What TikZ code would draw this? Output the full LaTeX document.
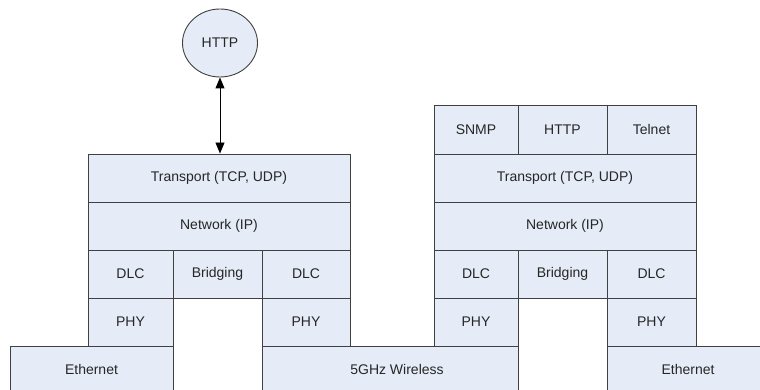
\documentclass[tikz,border=0pt]{standalone}
\usepackage{fontspec}
\setmainfont{Liberation Sans}
\usetikzlibrary{arrows.meta,shapes.geometric}
\definecolor{cellfill}{HTML}{E6ECF7}
\definecolor{cellline}{HTML}{404040}
\tikzset{
  cell/.style={draw=cellline, fill=cellfill, line width=0.9pt, inner sep=0pt,
    font=\fontsize{14}{16}\selectfont, text=black!85},
  lbl/.style={font=\fontsize{14}{16}\selectfont, text=black!85},
}
\newcommand{\cellbox}[6]{% name, x1, y1, x2, y2, text
  \node[cell, minimum width={(#4-#2)*1pt}, minimum height={(#5-#3)*1pt}]
    (#1) at ({(#2+#4)/2}, {(#3+#5)/2}) {#6};}
\begin{document}
\begin{tikzpicture}[x=1pt, y=-1pt]
\useasboundingbox (0,0) rectangle (760,390);
\clip (0,0) rectangle (760,390);
% left stack
\cellbox{ltr}{88}{154}{350}{202}{Transport (TCP, UDP)}
\cellbox{lnet}{88}{202}{350}{250}{Network (IP)}
\cellbox{ldlca}{88}{250}{173}{298}{DLC}
\cellbox{lbr}{173}{250}{262}{298}{Bridging}
\cellbox{ldlcb}{262}{250}{350}{298}{DLC}
\cellbox{lphya}{88}{298}{173}{346}{PHY}
\cellbox{lphyb}{262}{298}{350}{346}{PHY}
% right stack
\cellbox{rsnmp}{434}{105}{518}{154}{SNMP}
\cellbox{rhttp}{518}{105}{607}{154}{HTTP}
\cellbox{rtel}{607}{105}{696}{154}{Telnet}
\cellbox{rtr}{434}{154}{696}{202}{Transport (TCP, UDP)}
\cellbox{rnet}{434}{202}{696}{250}{Network (IP)}
\cellbox{rdlca}{434}{250}{518}{298}{DLC}
\cellbox{rbr}{518}{250}{607}{298}{Bridging}
\cellbox{rdlcb}{607}{250}{696}{298}{DLC}
\cellbox{rphya}{434}{298}{518}{346}{PHY}
\cellbox{rphyb}{607}{298}{696}{346}{PHY}
% media
\node[cell, minimum width=163pt, minimum height=90pt, anchor=north west] (eth1) at (10,346) {};
\node[lbl] (eth1t) at (91.5,369) {Ethernet};
\node[cell, minimum width=256pt, minimum height=90pt, anchor=north west] (wl) at (262,346) {};
\node[lbl] (wlt) at (397,369) {5GHz Wireless};
\node[cell, minimum width=200pt, minimum height=90pt, anchor=north west] (eth2) at (607,346) {};
\node[lbl] (eth2t) at (688,369) {Ethernet};
% HTTP circle
\node[cell, ellipse, minimum width=75pt, minimum height=68pt] (hc) at (220,43) {HTTP};
\draw[line width=0.9pt, black, {Triangle[length=11pt,width=9pt]}-{Triangle[length=11pt,width=9pt]}] (hc.south) -- (hc.south |- ltr.north);
\end{tikzpicture}
\end{document}
